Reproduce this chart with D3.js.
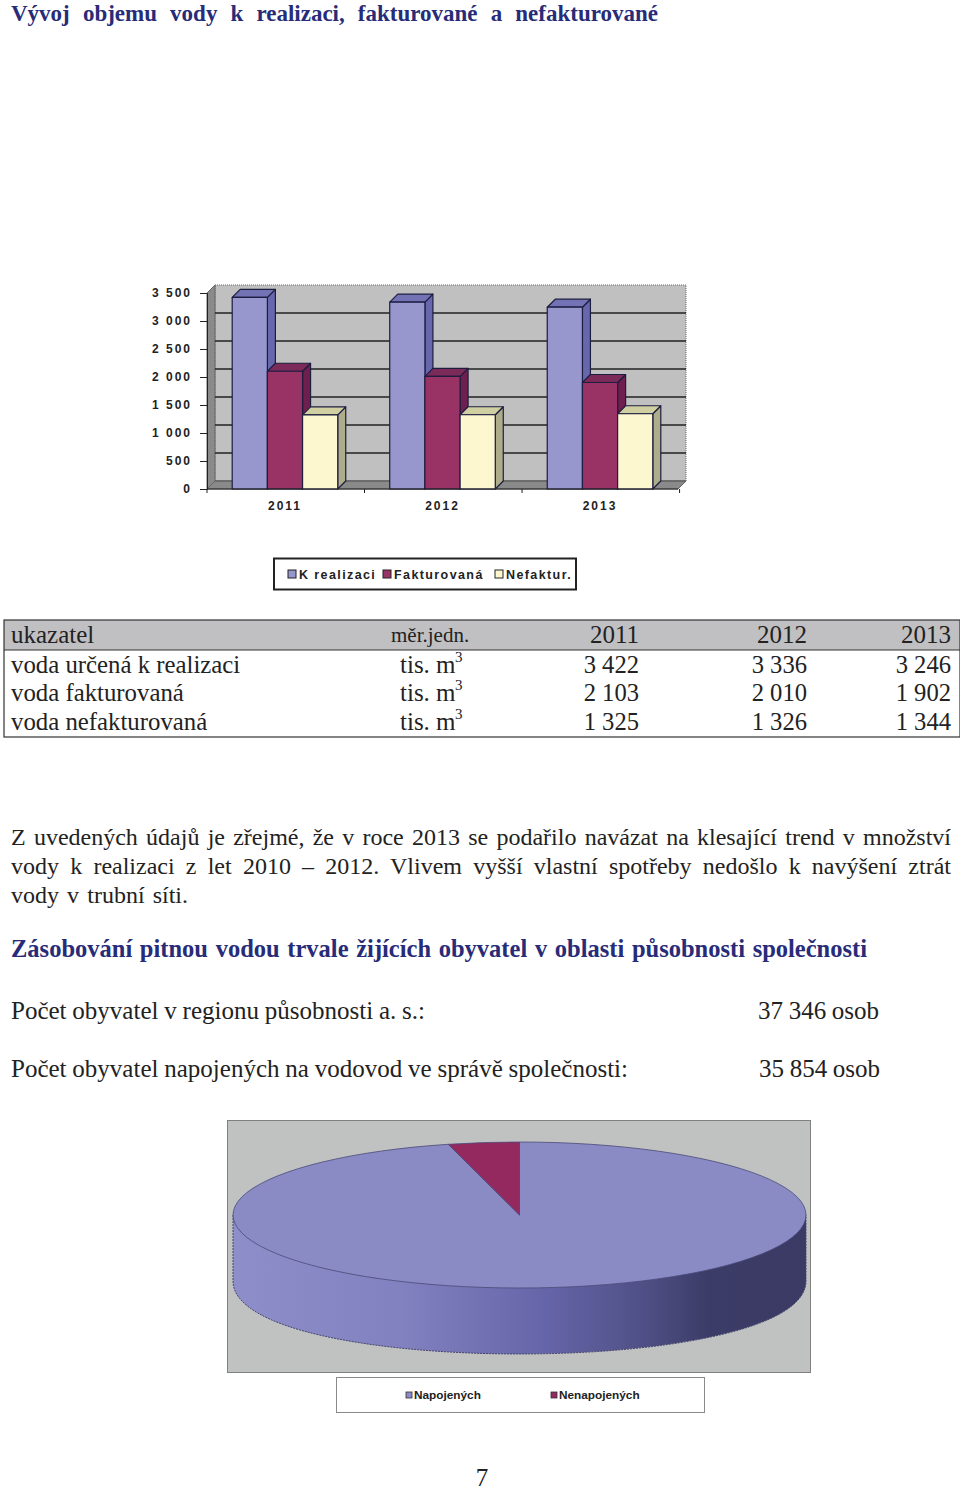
<!DOCTYPE html>
<html>
<head>
<meta charset="utf-8">
<script src="https://cdn.jsdelivr.net/npm/d3@7"></script>
<style>
  body { margin: 0; background: #fff; }
  svg { display: block; }
  text { font-family: "Liberation Serif", serif; fill: #222; }
  .sans { font-family: "Liberation Sans", sans-serif; font-weight: bold; }
  .axis text { font-family: "Liberation Sans", sans-serif; font-weight: bold; font-size: 12px; letter-spacing: 2px; fill: #222; }
  .axis path, .axis line { stroke: #222; }
</style>
</head>
<body>
<div id="page"></div>
<script>
// chart data
const years = ["2011", "2012", "2013"];
const kRealizaci = [3422, 3336, 3246];
const fakturovana = [2103, 2010, 1902];
const nefakturovana = [1325, 1326, 1344];
const barSeriesNames = ["K realizaci", "Fakturovaná", "Nefaktur."];
const yTicks = [0, 500, 1000, 1500, 2000, 2500, 3000, 3500];

const tableRowNames = ["voda určená k realizaci", "voda fakturovaná", "voda nefakturovaná"];

const pieNames = ["Napojených", "Nenapojených"];
const pieValues = [35854, 1492];

const titleText = "Vývoj objemu vody k realizaci, fakturované a nefakturované";
const paragraphLines = [
  "Z uvedených údajů je zřejmé, že v roce 2013 se podařilo navázat na klesající trend v množství",
  "vody k realizaci z let 2010 – 2012. Vlivem vyšší vlastní spotřeby nedošlo k navýšení ztrát",
  "vody v trubní síti."
];
const headingText = "Zásobování pitnou vodou trvale žijících obyvatel v oblasti působnosti společnosti";

const barColors = [
  { front: "#9797cd", side: "#6767ad", top: "#7272b4" },
  { front: "#993366", side: "#6f1f4e", top: "#7c2a5a" },
  { front: "#fdf7cf", side: "#adad8b", top: "#cfcfa2" }
];
const navy = "#282c78";

const svg = d3.select("#page").append("svg")
  .attr("width", 960)
  .attr("height", 1490);

// stretches the gaps between words so a line ends where it should
function fit(sel, width) {
  const node = sel.node();
  const gaps = sel.text().split(" ").length - 1;
  if (gaps > 0) sel.style("word-spacing", ((width - node.getComputedTextLength()) / gaps) + "px");
  return sel;
}

function addText(x, y, str, size, width, bold) {
  const t = svg.append("text").attr("x", x).attr("y", y).style("font-size", size + "px").text(str);
  if (bold) t.style("font-weight", "bold").style("fill", navy);
  if (width) fit(t, width);
  return t;
}

addText(11, 20.5, titleText, 23, 647, true);

// ---- bar chart ----
const depth = 8;
const x0 = d3.scaleBand().domain(years).range([207, 678]).paddingInner(0.33).paddingOuter(0.16);
const x1 = d3.scaleBand().domain(barSeriesNames).range([0, x0.bandwidth()]);
const y = d3.scaleLinear().domain([0, 3500]).range([489, 293]);

// walls and floor
const wall = svg.append("g");
wall.append("rect")
  .attr("x", 207 + depth).attr("y", y(3500) - depth)
  .attr("width", 678 - 207).attr("height", y(0) - y(3500))
  .attr("fill", "#c0c0c0").attr("stroke", "#666").attr("stroke-dasharray", "1 1");
wall.append("polygon")
  .attr("points", [[207, y(0)], [207 + depth, y(0) - depth], [207 + depth, y(3500) - depth], [207, y(3500)]].join(" "))
  .attr("fill", "#8a8a8a").attr("stroke", "#666");
wall.append("polygon")
  .attr("points", [[207, y(0)], [207 + depth, y(0) - depth], [678 + depth, y(0) - depth], [678, y(0)]].join(" "))
  .attr("fill", "#8a8a8a").attr("stroke", "#666");

wall.selectAll("line.grid")
  .data(yTicks.slice(0, -1))
  .enter()
  .append("line")
  .attr("class", "grid")
  .attr("x1", 207 + depth).attr("x2", 678 + depth)
  .attr("y1", d => y(d) - depth).attr("y2", d => y(d) - depth)
  .attr("stroke", d => d === 0 ? "#666" : "#222").attr("stroke-width", 1.3);

// bars, left to right so the next bar covers the side of the previous one
const seriesValues = [kRealizaci, fakturovana, nefakturovana];
years.forEach(function (year, i) {
  barSeriesNames.forEach(function (name, s) {
    const g = svg.append("g")
      .attr("stroke", "#1d1d40").attr("stroke-width", 1.2).attr("stroke-linejoin", "round");
    const left = x0(year) + x1(name);
    const right = left + x1.bandwidth();
    const top = y(seriesValues[s][i]);
    g.append("polygon")
      .attr("points", [[right, y(0)], [right + depth, y(0) - depth], [right + depth, top - depth], [right, top]].join(" "))
      .attr("fill", barColors[s].side);
    g.append("polygon")
      .attr("points", [[left, top], [left + depth, top - depth], [right + depth, top - depth], [right, top]].join(" "))
      .attr("fill", barColors[s].top);
    g.append("rect")
      .attr("x", left).attr("y", top)
      .attr("width", x1.bandwidth()).attr("height", y(0) - top)
      .attr("fill", barColors[s].front);
  });
});

// axes
const spaced = d3.formatLocale({ decimal: ",", thousands: " ", grouping: [3], currency: ["", ""] }).format(",");
const leftAxis = d3.axisLeft(y).tickValues(yTicks).tickFormat(spaced).tickSize(7).tickPadding(8);
svg.append("g").attr("class", "axis")
  .attr("transform", "translate(207, 0)")
  .call(leftAxis);

const bottomAxis = d3.axisBottom(x0).tickSize(0).tickPadding(12);
const xAxisGroup = svg.append("g").attr("class", "axis")
  .attr("transform", `translate(0, ${y(0)})`)
  .call(bottomAxis);
xAxisGroup.select(".domain").attr("d", "M207,0H678");
xAxisGroup.selectAll("line.boundary")
  .data(d3.range(years.length + 1))
  .enter()
  .append("line")
  .attr("class", "boundary")
  .attr("x1", i => 207 + i * x0.step())
  .attr("x2", i => 207 + i * x0.step())
  .attr("y1", 0).attr("y2", 4)
  .attr("stroke", "#222");

// bar legend
svg.append("rect")
  .attr("x", 274).attr("y", 558.5).attr("width", 302).attr("height", 31)
  .attr("fill", "#fff").attr("stroke", "#222").attr("stroke-width", 2);
const barLegendX = [288, 383, 495];
barSeriesNames.forEach(function (name, s) {
  svg.append("rect")
    .attr("x", barLegendX[s]).attr("y", 570).attr("width", 8).attr("height", 8)
    .attr("fill", barColors[s].front).attr("stroke", "#222");
  svg.append("text")
    .attr("class", "sans")
    .attr("x", barLegendX[s] + 11).attr("y", 579)
    .style("font-size", "12.5px").style("letter-spacing", "1.4px")
    .text(name);
});

// ---- table ----
svg.append("rect").attr("x", 4).attr("y", 620).attr("width", 956).attr("height", 30).attr("fill", "#c0c0c2");
svg.append("rect").attr("x", 4).attr("y", 620).attr("width", 956).attr("height", 117)
  .attr("fill", "none").attr("stroke", "#333").attr("stroke-width", 1.2);
svg.append("line").attr("x1", 4).attr("x2", 960).attr("y1", 650).attr("y2", 650).attr("stroke", "#333");

const colRight = [639, 807, 951];
const rowBase = [673, 701, 730];

addText(11, 643, "ukazatel", 25);
addText(391, 642, "měr.jedn.", 21);
years.forEach(function (year, c) {
  addText(colRight[c], 643, year, 25).attr("text-anchor", "end");
});
tableRowNames.forEach(function (name, r) {
  addText(11, rowBase[r], name, 24.8);
  addText(400, rowBase[r], "tis. m", 25);
  addText(455, rowBase[r] - 11, "3", 15);
  years.forEach(function (year, c) {
    addText(colRight[c], rowBase[r], spaced(seriesValues[r][c]), 24.6).attr("text-anchor", "end");
  });
});

// ---- text block ----
addText(11, 845, paragraphLines[0], 24, 940);
addText(11, 874, paragraphLines[1], 24, 940);
addText(11, 903, paragraphLines[2], 24, 177);
addText(11, 957, headingText, 24.5, 856, true);
addText(11, 1019, "Počet obyvatel v regionu působnosti a. s.:", 25, 414);
addText(758, 1019, spaced(37346) + " osob", 25, 121);
addText(11, 1077, "Počet obyvatel napojených na vodovod ve správě společnosti:", 25, 617);
addText(759, 1077, spaced(35854) + " osob", 25, 121);

// ---- pie chart ----
svg.append("rect")
  .attr("x", 227.5).attr("y", 1120.5).attr("width", 583).attr("height", 252)
  .attr("fill", "#c0c2c2").attr("stroke", "#808080");

const cx = 519.5, cy = 1215, rx = 286.5, ry = 73, pieDepth = 66;
const grad = svg.append("defs").append("linearGradient")
  .attr("id", "pieSide")
  .attr("gradientUnits", "userSpaceOnUse")
  .attr("x1", cx - rx).attr("x2", cx + rx).attr("y1", 0).attr("y2", 0);
[[0, "#8e8eca"], [0.3, "#8181c0"], [0.55, "#6464a8"], [0.7, "#52528a"], [0.83, "#3c3c68"], [1, "#3a3a64"]]
  .forEach(d => grad.append("stop").attr("offset", d[0]).attr("stop-color", d[1]));

const sidePath = d3.path();
sidePath.moveTo(cx - rx, cy);
sidePath.lineTo(cx - rx, cy + pieDepth);
sidePath.bezierCurveTo(cx - rx, cy + pieDepth + ry * 1.333, cx + rx, cy + pieDepth + ry * 1.333, cx + rx, cy + pieDepth);
sidePath.lineTo(cx + rx, cy);
sidePath.closePath();
svg.append("path").attr("d", sidePath.toString())
  .attr("fill", "url(#pieSide)").attr("stroke", "#45456e").attr("stroke-dasharray", "2 1");

const pie = d3.pie().sort(null);
const arc = d3.arc().innerRadius(0).outerRadius(rx);
svg.append("g")
  .attr("transform", `translate(${cx}, ${cy}) scale(1, ${ry / rx})`)
  .selectAll("path")
  .data(pie(pieValues))
  .enter()
  .append("path")
  .attr("d", arc)
  .attr("fill", (d, i) => i === 0 ? "#8a8ac4" : "#93295f")
  .attr("stroke", "#4a4a78").attr("stroke-width", 0.8)
  .attr("vector-effect", "non-scaling-stroke");

// pie legend
svg.append("rect")
  .attr("x", 336.5).attr("y", 1377.5).attr("width", 368).attr("height", 35)
  .attr("fill", "#fff").attr("stroke", "#8a8a8a");
const pieLegendX = [406, 551];
const pieLegendColors = ["#8a8ac4", "#93295f"];
pieNames.forEach(function (name, i) {
  svg.append("rect")
    .attr("x", pieLegendX[i]).attr("y", 1392).attr("width", 6).attr("height", 6)
    .attr("fill", pieLegendColors[i]).attr("stroke", "#333").attr("stroke-width", 0.8);
  svg.append("text")
    .attr("class", "sans")
    .attr("x", pieLegendX[i] + 8).attr("y", 1399)
    .style("font-size", "11.8px")
    .text(name);
});

addText(482, 1486, "7", 25).attr("text-anchor", "middle");
</script>
</body>
</html>
